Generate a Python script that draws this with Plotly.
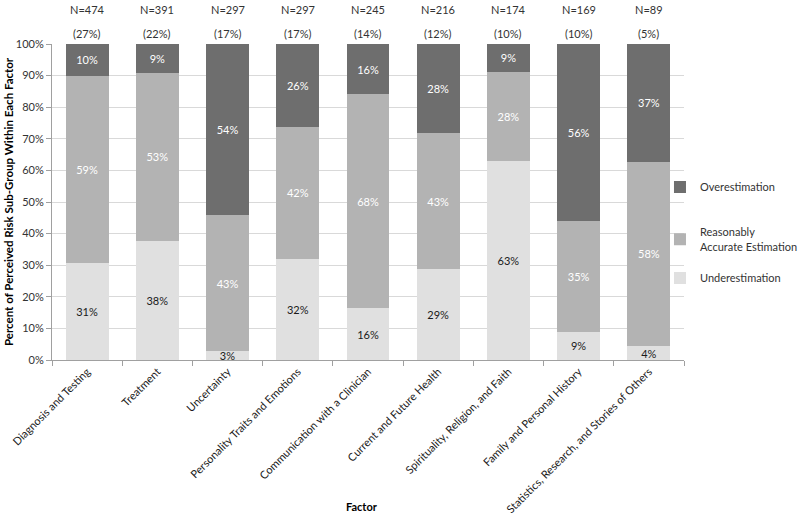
import plotly.graph_objects as go

categories = ["Diagnosis and Testing", "Treatment", "Uncertainty",
              "Personality Traits and Emotions", "Communication with a Clinician",
              "Current and Future Health", "Spirituality, Religion, and Faith",
              "Family and Personal History", "Statistics, Research, and Stories of Others"]
n_labels = ["N=474", "N=391", "N=297", "N=297", "N=245", "N=216", "N=174", "N=169", "N=89"]
n_pct = ["(27%)", "(22%)", "(17%)", "(17%)", "(14%)", "(12%)", "(10%)", "(10%)", "(5%)"]

under = [30.6, 37.7, 2.7, 31.9, 16.3, 28.7, 63.0, 8.9, 4.4]
reasonable = [59.4, 53.2, 43.1, 41.9, 67.8, 43.1, 28.2, 35.0, 58.3]
over = [10.0, 9.1, 54.2, 26.2, 15.9, 28.2, 8.8, 56.1, 37.3]

FONT = "Lato"
fig = go.Figure()
series = [
    ("Underestimation", under, "#e0e0e0", "#1a1a1a", "legend", 0.2595),
    ("Reasonably<br>Accurate Estimation", reasonable, "#b3b3b3", "#ffffff", "legend2", 0.3813),
    ("Overestimation", over, "#6e6e6e", "#ffffff", "legend3", 0.5475),
]
legend_layout = {}
for name, vals, col, tcol, leg, ly in series:
    fig.add_trace(go.Bar(
        x=categories, y=vals, name=name, marker=dict(color=col, line=dict(width=0)),
        text=[f"{round(v):d}%" for v in vals], textposition="inside",
        insidetextanchor="middle", textangle=0, constraintext="none",
        textfont=dict(color=tcol, size=11, family=FONT),
        legend=leg, width=0.61, showlegend=True,
    ))
    legend_layout[leg] = dict(x=0.962, y=ly, xanchor="left", yanchor="middle",
                              font=dict(size=11, family=FONT, color="#333333"),
                              itemwidth=30, bgcolor="rgba(0,0,0,0)")

for c, n, p in zip(categories, n_labels, n_pct):
    fig.add_annotation(x=c, y=1, yref="paper", yshift=35, yanchor="middle", text=n, showarrow=False,
                       font=dict(size=11, family=FONT, color="#333333"))
    fig.add_annotation(x=c, y=1, yref="paper", yshift=11, yanchor="middle", text=p, showarrow=False,
                       font=dict(size=11, family=FONT, color="#333333"))

fig.add_annotation(x=0, xref="paper", xshift=-44, y=0.5, yref="paper", textangle=-90,
                   xanchor="center", yanchor="middle", showarrow=False,
                   text="<b>Percent of Perceived Risk Sub-Group Within Each Factor</b>",
                   font=dict(size=11.5, family=FONT, color="#000000"))
fig.add_annotation(x=0.49, xref="paper", y=0, yref="paper", yshift=-146,
                   xanchor="center", yanchor="middle", showarrow=False,
                   text="<b>Factor</b>", font=dict(size=11, family=FONT, color="#000000"))

fig.update_layout(
    barmode="stack", width=800, height=516, showlegend=True,
    margin=dict(l=52, r=116, t=44, b=156, autoexpand=False),
    paper_bgcolor="white", plot_bgcolor="white",
    font=dict(family=FONT, size=11, color="#333333"),
    uniformtext=dict(minsize=6, mode="show"),
    xaxis=dict(automargin=False,
               tickangle=-45, showline=True, linecolor="#a0a0a0", linewidth=1,
               ticks="outside", tickson="boundaries", ticklen=5, tickcolor="#a0a0a0",
               tickfont=dict(size=11, family=FONT, color="#1a1a1a")),
    yaxis=dict(automargin=False,
               range=[0, 100], dtick=10, ticksuffix="%", showgrid=True, gridcolor="#d9d9d9",
               showline=True, linecolor="#a0a0a0", ticks="outside", ticklen=5, tickcolor="#a0a0a0",
               tickfont=dict(size=11, family=FONT, color="#333333"), zeroline=False),
    **legend_layout,
)
fig.write_html("out.html", config={"displayModeBar": False},
               post_script="document.body.style.margin='0';document.body.style.overflow='hidden';")
